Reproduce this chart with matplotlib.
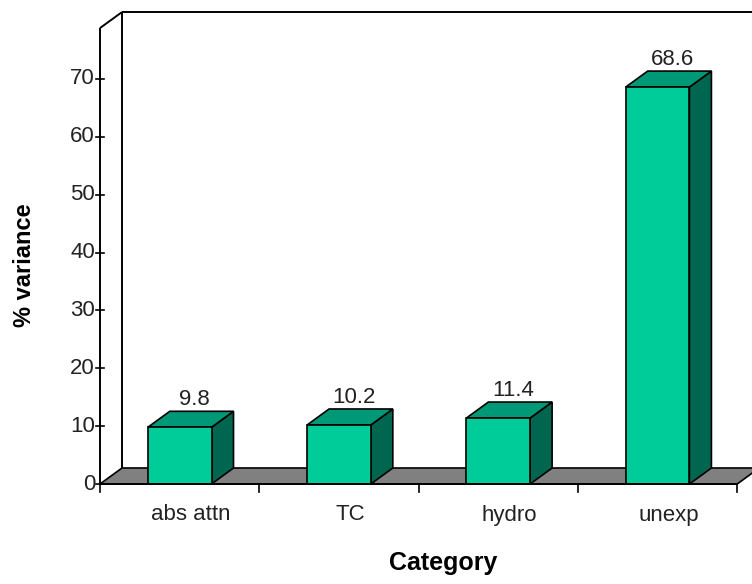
import matplotlib.pyplot as plt
from matplotlib.patches import Polygon

# variance explained by each category
categories = ['abs attn', 'TC', 'hydro', 'unexp']
variance = [9.8, 10.2, 11.4, 68.6]
yticks = [0, 10, 20, 30, 40, 50, 60, 70]

FRONT = '#00CC99'
TOP = '#009977'
SIDE = '#006650'
FLOOR = '#808080'

W, H = 752, 584
fig = plt.figure(figsize=(W / 100, H / 100), dpi=100)

# axes: x in category units, y in % variance
left_px, base_px = 100, 484
cat_px = 159.3
unit_px = 5.786
ax = fig.add_axes([left_px / W, (H - base_px) / H, (W - left_px) / W, base_px / H])
xmax = (W - left_px) / cat_px
ymax = base_px / unit_px
ax.set_xlim(0, xmax)
ax.set_ylim(0, ymax)
ax.axis('off')

# depth of the 3d box, converted to data units
DX = 22 / cat_px
DY = 16 / unit_px
ytop = 78.8
n = len(categories)
txt = dict(fontsize=16, family='Liberation Sans', color='#222222')

# floor
ax.add_patch(Polygon([(0, 0), (n, 0), (n + DX, DY), (DX, DY)], closed=True,
                     facecolor=FLOOR, edgecolor='black', lw=1.2, clip_on=False))
# back wall and front axis
kw = dict(color='black', lw=1.4, clip_on=False, solid_capstyle='butt')
ax.plot([DX, DX], [DY, ytop + DY], **kw)
ax.plot([DX, xmax + 1], [ytop + DY, ytop + DY], **kw)
ax.plot([0, DX], [ytop, ytop + DY], **kw)
ax.plot([0, 0], [0, ytop], **kw)
ax.plot([0, n], [0, 0], **kw)

# y ticks
tk = 4 / cat_px
for t in yticks:
    ax.plot([-tk, tk], [t, t], color='black', lw=1.2, clip_on=False)
    ax.text(-tk - 1 / cat_px, t, str(t), ha='right', va='center', **txt)

# x ticks on category boundaries
for i in range(n + 1):
    ax.plot([i, i], [0, -8 / unit_px], color='black', lw=1.2, clip_on=False)

bw = 0.4
for i, (cat, v) in enumerate(zip(categories, variance)):
    x0 = i + 0.5 - bw / 2
    x1 = i + 0.5 + bw / 2
    ax.add_patch(Polygon([(x1, 0), (x1 + DX, DY), (x1 + DX, v + DY), (x1, v)],
                         closed=True, facecolor=SIDE, edgecolor='black', lw=1.2))
    ax.add_patch(Polygon([(x0, v), (x1, v), (x1 + DX, v + DY), (x0 + DX, v + DY)],
                         closed=True, facecolor=TOP, edgecolor='black', lw=1.2))
    ax.add_patch(Polygon([(x0, 0), (x1, 0), (x1, v), (x0, v)],
                         closed=True, facecolor=FRONT, edgecolor='black', lw=1.2))
    ax.text(i + 0.5 + (DX / 2 + 4 / cat_px), v + DY + 0.2, f'{v}', ha='center',
            va='bottom', **txt)
    ax.text(i + 0.5 + DX / 2, -31 / unit_px, cat, ha='center', va='center', **txt)

fig.text(25 / W, 1 - 265 / H, '% variance', rotation=90, ha='center', va='center',
         fontsize=17, fontweight='bold', family='Liberation Sans')
fig.text(443 / W, 1 - 563 / H, 'Category', ha='center', va='center',
         fontsize=18, fontweight='bold', family='Liberation Sans')

fig.savefig('out.png', dpi=100)
